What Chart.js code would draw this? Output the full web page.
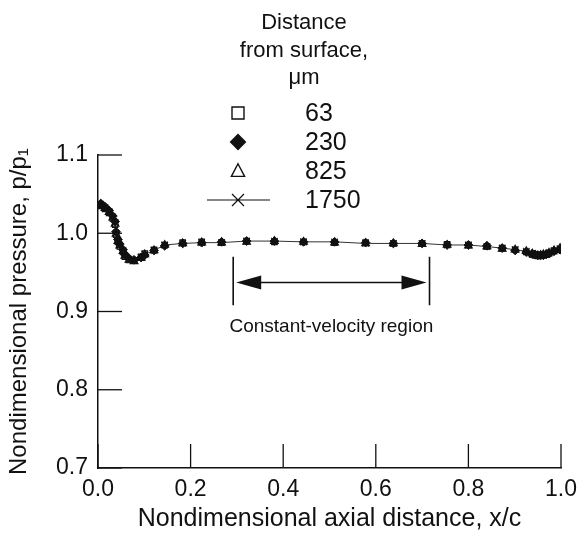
<!DOCTYPE html>
<html>
<head>
<meta charset="utf-8">
<script src="https://cdn.jsdelivr.net/npm/chart.js@4.4.0/dist/chart.umd.min.js"></script>
<style>
  body { margin: 0; background: #fff; }
</style>
</head>
<body>
<canvas id="myChart" width="580" height="537"></canvas>
<script>
// x/c positions of the measured points (shared by all four traverses)
let xValues = [0.006, 0.015, 0.024, 0.032, 0.037, 0.039, 0.043, 0.047, 0.054, 0.058, 0.067, 0.078, 0.093, 0.101, 0.121, 0.144, 0.183, 0.224, 0.267, 0.321, 0.381, 0.444, 0.511, 0.578, 0.638, 0.700, 0.754, 0.800, 0.840, 0.873, 0.901, 0.925, 0.938, 0.944, 0.950, 0.956, 0.962, 0.968, 0.974, 0.985, 0.998];

// p/p1 for each distance from surface
let y63 = [1.035, 1.031, 1.026, 1.019, 1.011, 0.998, 0.989, 0.983, 0.976, 0.970, 0.966, 0.965, 0.970, 0.974, 0.979, 0.985, 0.988, 0.989, 0.988, 0.990, 0.989, 0.989, 0.988, 0.988, 0.987, 0.987, 0.986, 0.985, 0.983, 0.981, 0.979, 0.976, 0.973, 0.972, 0.971, 0.971, 0.972, 0.973, 0.975, 0.978, 0.980];
let y230 = [1.038, 1.034, 1.029, 1.022, 1.015, 1.002, 0.992, 0.986, 0.979, 0.973, 0.968, 0.966, 0.969, 0.972, 0.978, 0.984, 0.987, 0.988, 0.989, 0.990, 0.990, 0.989, 0.989, 0.988, 0.987, 0.987, 0.985, 0.985, 0.984, 0.981, 0.978, 0.976, 0.974, 0.973, 0.972, 0.972, 0.972, 0.973, 0.974, 0.977, 0.979];
let y825 = [1.036, 1.032, 1.027, 1.020, 1.012, 0.999, 0.990, 0.984, 0.977, 0.971, 0.966, 0.964, 0.968, 0.973, 0.978, 0.985, 0.987, 0.988, 0.988, 0.989, 0.990, 0.989, 0.988, 0.987, 0.987, 0.986, 0.985, 0.984, 0.983, 0.980, 0.979, 0.977, 0.974, 0.972, 0.971, 0.972, 0.973, 0.973, 0.975, 0.978, 0.981];
let y1750 = [1.037, 1.033, 1.028, 1.021, 1.014, 1.000, 0.991, 0.985, 0.978, 0.972, 0.967, 0.965, 0.969, 0.973, 0.978, 0.985, 0.987, 0.988, 0.988, 0.990, 0.990, 0.989, 0.989, 0.987, 0.987, 0.987, 0.985, 0.985, 0.983, 0.981, 0.979, 0.977, 0.973, 0.972, 0.972, 0.971, 0.972, 0.973, 0.974, 0.977, 0.980];

let seriesLabels = ["63", "230", "825", "1750"];
let legendTitle = ["Distance", "from surface,", "\u03bcm"];

let xTitle = "Nondimensional axial distance, x/c";
let yTitle = "Nondimensional pressure, p/p\u2081";

// constant-velocity region annotation (x/c and p/p1)
let regionLabel = "Constant-velocity region";
let regionStart = 0.292;
let regionEnd = 0.716;
let regionTop = 0.970;
let regionBottom = 0.908;
let regionArrowY = 0.937;
let regionLabelY = 0.881;

const ink = "#111";
const fontFamily = "'Liberation Sans', Arial, Helvetica, sans-serif";

function toPoints(ys) {
  let pts = [];
  for (let i = 0; i < xValues.length; i++) {
    pts.push({ x: xValues[i], y: ys[i] });
  }
  return pts;
}

function drawMarker(ctx, style, x, y, r) {
  ctx.save();
  ctx.strokeStyle = ink;
  ctx.fillStyle = ink;
  ctx.lineWidth = 1.4;
  ctx.beginPath();
  if (style === "rect") {
    ctx.rect(x - r, y - r, 2 * r, 2 * r);
    ctx.stroke();
  } else if (style === "rectRot") {
    ctx.moveTo(x, y - r * 1.4);
    ctx.lineTo(x + r * 1.4, y);
    ctx.lineTo(x, y + r * 1.4);
    ctx.lineTo(x - r * 1.4, y);
    ctx.closePath();
    ctx.fill();
  } else if (style === "triangle") {
    ctx.moveTo(x, y - r * 1.2);
    ctx.lineTo(x + r * 1.1, y + r * 0.9);
    ctx.lineTo(x - r * 1.1, y + r * 0.9);
    ctx.closePath();
    ctx.stroke();
  } else {
    ctx.lineWidth = 1.2;
    ctx.moveTo(x - 31, y);
    ctx.lineTo(x + 32, y);
    ctx.moveTo(x - r, y - r);
    ctx.lineTo(x + r, y + r);
    ctx.moveTo(x + r, y - r);
    ctx.lineTo(x - r, y + r);
    ctx.stroke();
  }
  ctx.restore();
}

const decorPlugin = {
  id: "decor",
  afterDraw(chart) {
    const ctx = chart.ctx;
    const xs = chart.scales.x;
    const ys = chart.scales.y;
    const area = chart.chartArea;
    const tickLen = 24;

    ctx.save();
    ctx.strokeStyle = ink;
    ctx.lineWidth = 1.3;

    // inward tick marks
    ys.ticks.forEach((t) => {
      let py = ys.getPixelForValue(t.value);
      ctx.beginPath();
      ctx.moveTo(area.left, py);
      ctx.lineTo(area.left + tickLen, py);
      ctx.stroke();
    });
    xs.ticks.forEach((t) => {
      let px = xs.getPixelForValue(t.value);
      ctx.beginPath();
      ctx.moveTo(px, area.bottom);
      ctx.lineTo(px, area.bottom - tickLen);
      ctx.stroke();
    });

    // region brackets and double arrow
    let x1 = xs.getPixelForValue(regionStart);
    let x2 = xs.getPixelForValue(regionEnd);
    let yTop = ys.getPixelForValue(regionTop);
    let yBot = ys.getPixelForValue(regionBottom);
    let yArrow = ys.getPixelForValue(regionArrowY);
    ctx.lineWidth = 1.6;
    ctx.beginPath();
    ctx.moveTo(x1, yTop);
    ctx.lineTo(x1, yBot);
    ctx.moveTo(x2, yTop);
    ctx.lineTo(x2, yBot);
    ctx.moveTo(x1 + 20, yArrow);
    ctx.lineTo(x2 - 20, yArrow);
    ctx.stroke();
    ctx.fillStyle = ink;
    ctx.beginPath();
    ctx.moveTo(x1 + 3, yArrow);
    ctx.lineTo(x1 + 28, yArrow - 7);
    ctx.lineTo(x1 + 28, yArrow + 7);
    ctx.closePath();
    ctx.fill();
    ctx.beginPath();
    ctx.moveTo(x2 - 3, yArrow);
    ctx.lineTo(x2 - 28, yArrow - 7);
    ctx.lineTo(x2 - 28, yArrow + 7);
    ctx.closePath();
    ctx.fill();

    ctx.font = "19px " + fontFamily;
    ctx.textAlign = "center";
    ctx.textBaseline = "middle";
    ctx.fillText(regionLabel, (x1 + x2) / 2, ys.getPixelForValue(regionLabelY));

    // legend block
    ctx.font = "22px " + fontFamily;
    ctx.textAlign = "center";
    ctx.textBaseline = "alphabetic";
    let titleBase = [29, 57, 84];
    for (let i = 0; i < legendTitle.length; i++) {
      ctx.fillText(legendTitle[i], 304, titleBase[i]);
    }
    let rowY = [113, 142, 171, 200];
    ctx.font = "25px " + fontFamily;
    ctx.textAlign = "left";
    ctx.textBaseline = "middle";
    chart.data.datasets.forEach((ds, i) => {
      drawMarker(ctx, ds.pointStyle, 238, rowY[i], 6);
      ctx.fillText(ds.label, 305, rowY[i] + 1);
    });
    ctx.restore();
  },
};

let ctxChart = document.getElementById("myChart").getContext("2d");

const myChart = new Chart(ctxChart, {
  type: "scatter",
  data: {
    datasets: [
      {
        label: seriesLabels[0],
        data: toPoints(y63),
        pointStyle: "rect",
        pointRadius: 3.8,
        borderColor: ink,
        backgroundColor: "rgba(255,255,255,0)",
        pointBorderWidth: 1.2,
      },
      {
        label: seriesLabels[1],
        data: toPoints(y230),
        pointStyle: "rectRot",
        pointRadius: 4.4,
        borderColor: ink,
        backgroundColor: ink,
        pointBorderWidth: 1,
      },
      {
        label: seriesLabels[2],
        data: toPoints(y825),
        pointStyle: "triangle",
        pointRadius: 4.4,
        borderColor: ink,
        backgroundColor: "rgba(255,255,255,0)",
        pointBorderWidth: 1.2,
      },
      {
        label: seriesLabels[3],
        data: toPoints(y1750),
        pointStyle: "crossRot",
        pointRadius: 4.6,
        borderColor: "#333",
        backgroundColor: ink,
        pointBorderWidth: 1.2,
        showLine: true,
        borderWidth: 1,
      },
    ],
  },
  options: {
    responsive: false,
    maintainAspectRatio: false,
    animation: false,
    layout: { padding: { top: 155, right: 19, left: 0, bottom: 0 } },
    plugins: {
      legend: { display: false },
      tooltip: { enabled: false },
    },
    scales: {
      x: {
        type: "linear",
        min: 0,
        max: 1,
        afterFit(scale) {
          scale.height = 69;
          scale.paddingLeft = 0;
          scale.paddingRight = 0;
        },
        grid: { display: false, drawTicks: false },
        border: { display: true, color: ink, width: 1.5 },
        ticks: {
          stepSize: 0.2,
          padding: 8,
          color: ink,
          font: { size: 23, family: fontFamily },
          maxRotation: 0,
          callback: (v) => v.toFixed(1),
        },
        title: {
          display: true,
          text: xTitle,
          color: ink,
          font: { size: 25, family: fontFamily },
          padding: { top: 0, bottom: 3 },
        },
      },
      y: {
        type: "linear",
        min: 0.7,
        max: 1.1,
        afterFit(scale) {
          scale.width = 98;
        },
        grid: { display: false, drawTicks: false },
        border: { display: true, color: ink, width: 1.5 },
        ticks: {
          stepSize: 0.1,
          padding: 10,
          color: ink,
          font: { size: 23, family: fontFamily },
          callback: (v) => v.toFixed(1),
        },
        title: {
          display: true,
          text: yTitle,
          color: ink,
          font: { size: 24, family: fontFamily },
          padding: { top: 5, bottom: 0 },
        },
      },
    },
  },
  plugins: [decorPlugin],
});
</script>
</body>
</html>
